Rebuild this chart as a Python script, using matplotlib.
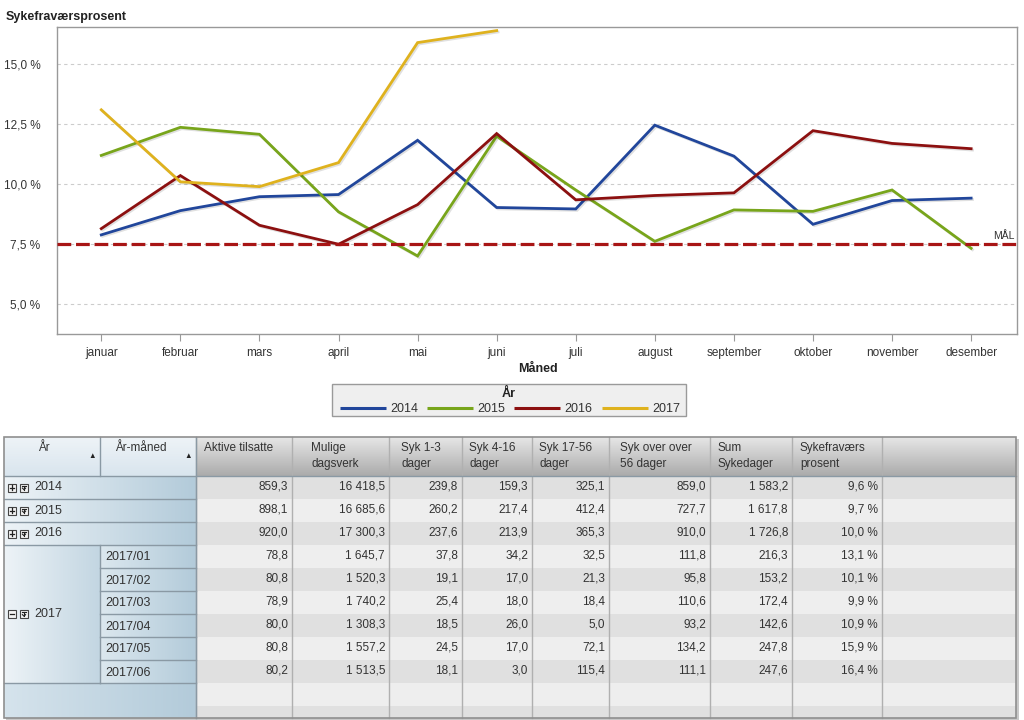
import numpy as np
import matplotlib
matplotlib.use("Agg")
import matplotlib.pyplot as plt
import matplotlib.patheffects as pe
from matplotlib.patches import Rectangle
from matplotlib.colors import LinearSegmentedColormap

plt.rcParams['font.family'] = ['Liberation Sans', 'DejaVu Sans']

# ---------------- chart data ----------------
months = ["januar", "februar", "mars", "april", "mai", "juni", "juli",
          "august", "september", "oktober", "november", "desember"]
years = ["2014", "2015", "2016", "2017"]
v2014 = [7.89, 8.90, 9.48, 9.57, 11.83, 9.03, 8.97, 12.46, 11.17, 8.33, 9.32, 9.42]
v2015 = [11.20, 12.37, 12.08, 8.85, 7.01, 12.00, 9.76, 7.62, 8.93, 8.87, 9.76, 7.33]
v2016 = [8.15, 10.36, 8.29, 7.50, 9.15, 12.11, 9.35, 9.53, 9.64, 12.23, 11.70, 11.48]
v2017 = [13.1, 10.1, 9.9, 10.9, 15.9, 16.4]
target = 7.5
yticks = [5.0, 7.5, 10.0, 12.5, 15.0]
colors = ["#21469b", "#78a51b", "#8c1010", "#dfb21e"]

# ---------------- table data ----------------
row_years = ["2014", "2015", "2016"]
sub_year = "2017"
sub_months = ["2017/01", "2017/02", "2017/03", "2017/04", "2017/05", "2017/06"]
col_headers = ["Aktive tilsatte", "Mulige\ndagsverk", "Syk 1-3\ndager", "Syk 4-16\ndager",
               "Syk 17-56\ndager", "Syk over over\n56 dager", "Sum\nSykedager",
               "Sykefraværs\nprosent"]
aktive = [859.3, 898.1, 920.0, 78.8, 80.8, 78.9, 80.0, 80.8, 80.2]
mulige = [16418.5, 16685.6, 17300.3, 1645.7, 1520.3, 1740.2, 1308.3, 1557.2, 1513.5]
syk13 = [239.8, 260.2, 237.6, 37.8, 19.1, 25.4, 18.5, 24.5, 18.1]
syk416 = [159.3, 217.4, 213.9, 34.2, 17.0, 18.0, 26.0, 17.0, 3.0]
syk1756 = [325.1, 412.4, 365.3, 32.5, 21.3, 18.4, 5.0, 72.1, 115.4]
sykover = [859.0, 727.7, 910.0, 111.8, 95.8, 110.6, 93.2, 134.2, 111.1]
sumdager = [1583.2, 1617.8, 1726.8, 216.3, 153.2, 172.4, 142.6, 247.8, 247.6]
prosent = [9.6, 9.7, 10.0, 13.1, 10.1, 9.9, 10.9, 15.9, 16.4]


def fmt(v):
    return f"{v:,.1f}".replace(",", " ").replace(".", ",")


def fmt_pct(v):
    return f"{v:.1f}".replace(".", ",") + " %"


W, H = 1024, 720
fig = plt.figure(figsize=(W / 100, H / 100), dpi=100)
fig.patch.set_facecolor("white")

# overlay axes in pixel coordinates
ov = fig.add_axes([0, 0, 1, 1], zorder=0)
ov.set_xlim(0, W)
ov.set_ylim(H, 0)
ov.axis("off")

TXT = "#333333"

# ---------------- chart ----------------
ax = fig.add_axes([57 / W, 1 - 334 / H, (1017 - 57) / W, (334 - 27) / H], zorder=2)
x = np.arange(len(months))
for vals, c in zip([v2014, v2015, v2016, v2017], colors):
    ax.plot(x[:len(vals)], vals, color=c, lw=2.0, solid_joinstyle="miter", zorder=3,
            path_effects=[pe.SimpleLineShadow(offset=(1, -1), alpha=0.12), pe.Normal()])
ax.axhline(target, color="#a81515", lw=2.3, dashes=(4.3, 1.5), zorder=4)
ax.text(11.55, target + 0.12, "MÅL", ha="right", va="bottom", fontsize=7.5, color=TXT)
ax.set_ylim(3.76, 16.55)
ax.set_xlim(-0.56, 11.58)
ax.set_yticks(yticks)
ax.set_yticklabels([f"{t:.1f}".replace(".", ",") + " %" for t in yticks], fontsize=8.5, color=TXT)
ax.set_xticks(x)
ax.set_xticklabels(months, fontsize=8.5, color=TXT)
for lab in ax.get_xticklabels():
    lab.set_verticalalignment("baseline")
ax.tick_params(axis="y", length=0, pad=12)
ax.tick_params(axis="x", length=5, color="#999999", pad=10.6)
ax.grid(axis="y", color="#cccccc", linestyle=(0, (3, 3)), lw=0.8)
ax.set_axisbelow(True)
for s in ax.spines.values():
    s.set_color("#999999")
    s.set_linewidth(1.0)

fig.text(6 / W, 1 - 17 / H, "Sykefraværsprosent", fontsize=9, fontweight="bold",
         ha="left", va="center", color="#222222")
fig.text(538 / W, 1 - 369 / H, "Måned", fontsize=9, fontweight="bold",
         ha="center", va="center", color="#222222")

# ---------------- legend ----------------
ov.add_patch(Rectangle((332, 383.5), 354, 32.5, facecolor="#efefef", edgecolor="#9a9a9a", lw=1, zorder=2))
ov.text(509, 393.5, "År", ha="center", va="center", fontsize=9, fontweight="bold", color="#222222", zorder=3)
leg_x = [340, 427, 514, 602]
for lx, yr, c in zip(leg_x, years, colors):
    ov.plot([lx, lx + 46], [408, 408], color=c, lw=2.2, zorder=3, solid_capstyle="butt")
    ov.text(lx + 50, 408.5, yr, ha="left", va="center", fontsize=9, color=TXT, zorder=3)

# ---------------- table ----------------
col_edges = [4, 100, 196, 292, 389, 462, 532, 609, 710, 792, 882, 1016]
hdr_top, hdr_bot = 437, 476
row_h = 23
n_rows = len(aktive)
row_tops = [hdr_bot + i * row_h for i in range(n_rows + 1)]
tbl_bot = 718


def grad(x0, x1, y0, y1, c0, c1, horizontal=True, z=1):
    cmap = LinearSegmentedColormap.from_list("g", [c0, c1])
    if horizontal:
        arr = np.linspace(0, 1, 64).reshape(1, -1)
    else:
        arr = np.linspace(0, 1, 64).reshape(-1, 1)
    ov.imshow(arr, cmap=cmap, extent=(x0, x1, y1, y0), aspect="auto",
              interpolation="bilinear", origin="upper", zorder=z)


# shadow
ov.add_patch(Rectangle((6, hdr_top + 2), col_edges[-1] - 4 + 1, tbl_bot - hdr_top + 1,
                       facecolor="#c8c8c8", edgecolor="none", zorder=0.5))

# data area backgrounds (alternating)
data_x0, data_x1 = col_edges[2], col_edges[-1]
band_tops = row_tops + [row_tops[-1] + row_h, row_tops[-1] + 2 * row_h]
for i in range(len(band_tops) - 1):
    y0 = band_tops[i]
    y1 = min(band_tops[i + 1], tbl_bot)
    fc = "#e0e0e0" if i % 2 == 0 else "#eeeeee"
    ov.add_patch(Rectangle((data_x0, y0), data_x1 - data_x0, y1 - y0, facecolor=fc,
                           edgecolor="none", zorder=1))

# header cells
grad(col_edges[0], col_edges[1], hdr_top, hdr_bot, "#eef3f7", "#d9e5ee", horizontal=False)
grad(col_edges[1], col_edges[2], hdr_top, hdr_bot, "#eef3f7", "#d9e5ee", horizontal=False)
for j in range(2, len(col_edges) - 1):
    grad(col_edges[j], col_edges[j + 1], hdr_top, hdr_bot, "#e6e6e6", "#ababab", horizontal=False)

# vertical lines in header and data
for j in range(2, len(col_edges) - 1):
    ov.plot([col_edges[j], col_edges[j]], [hdr_top, tbl_bot], color="#b0b0b0", lw=1, zorder=3)
ov.plot([col_edges[1], col_edges[1]], [hdr_top, hdr_bot], color="#8a99a4", lw=1, zorder=3)
ov.plot([col_edges[0], col_edges[-1]], [hdr_bot, hdr_bot], color="#8a99a4", lw=1, zorder=3)

# header texts
ov.text(44, 448, "År", ha="center", va="center", fontsize=8.5, color=TXT, zorder=4)
ov.text(141, 448, "År-måned", ha="center", va="center", fontsize=8.5, color=TXT, zorder=4)
ov.text(92, 457, "▲", ha="center", va="center", fontsize=5.5, color="#222222", zorder=4)
ov.text(188, 457, "▲", ha="center", va="center", fontsize=5.5, color="#222222", zorder=4)
hdr_x = [204, 311, 401, 469, 539, 620, 717, 800]
for hx, label in zip(hdr_x, col_headers):
    for k, line in enumerate(label.split("\n")):
        ov.text(hx, 448 + 16.5 * k, line, ha="left", va="center", fontsize=8.5, color=TXT, zorder=4)

# left label cells
LBL_L, LBL_R = "#edf3f7", "#b3cbda"
edge_c = "#8a99a4"


def icon(xc, yc, minus=False):
    ov.add_patch(Rectangle((xc - 4, yc - 4), 8, 8, facecolor="#f4f4f4", edgecolor="#444444",
                           lw=0.8, zorder=5))
    ov.plot([xc - 2.2, xc + 2.2], [yc, yc], color="#222222", lw=0.9, zorder=6)
    if not minus:
        ov.plot([xc, xc], [yc - 2.2, yc + 2.2], color="#222222", lw=0.9, zorder=6)


def icon2(xc, yc):
    ov.add_patch(Rectangle((xc - 4, yc - 4), 8, 8, facecolor="#f4f4f4", edgecolor="#444444",
                           lw=0.8, zorder=5))
    ov.plot([xc - 2.2, xc + 2.2], [yc - 2, yc - 2], color="#222222", lw=0.8, zorder=6)
    ov.plot([xc, xc], [yc - 2, yc + 2.2], color="#222222", lw=0.8, zorder=6)
    ov.plot([xc - 1.6, xc, xc + 1.6], [yc + 0.6, yc + 2.2, yc + 0.6], color="#222222", lw=0.8, zorder=6)


for i, yr in enumerate(row_years):
    y0, y1 = row_tops[i], row_tops[i + 1]
    grad(col_edges[0], col_edges[2], y0, y1, LBL_L, LBL_R)
    ov.plot([col_edges[0], col_edges[2]], [y1, y1], color=edge_c, lw=1, zorder=3)
    yc = (y0 + y1) / 2
    icon(12, yc)
    icon2(24, yc)
    ov.text(34, yc, yr, ha="left", va="center", fontsize=9, color=TXT, zorder=4)

# 2017 spanning cell
y17a, y17b = row_tops[3], row_tops[3 + len(sub_months)]
grad(col_edges[0], col_edges[1], y17a, y17b, LBL_L, "#c3d6e2")
yc17 = (y17a + y17b) / 2
icon(12, yc17, minus=True)
icon2(24, yc17)
ov.text(34, yc17, sub_year, ha="left", va="center", fontsize=9, color=TXT, zorder=4)
for k, m in enumerate(sub_months):
    y0, y1 = row_tops[3 + k], row_tops[4 + k]
    grad(col_edges[1], col_edges[2], y0, y1, "#dbe7ee", LBL_R)
    ov.plot([col_edges[1], col_edges[2]], [y1, y1], color=edge_c, lw=1, zorder=3)
    ov.text(105, (y0 + y1) / 2 + 1, m, ha="left", va="center", fontsize=9, color=TXT, zorder=4)
ov.plot([col_edges[1], col_edges[1]], [y17a, y17b], color=edge_c, lw=1, zorder=3)
ov.plot([col_edges[0], col_edges[1]], [y17b, y17b], color=edge_c, lw=1, zorder=3)
# empty bottom label cell
grad(col_edges[0], col_edges[2], y17b, tbl_bot, "#d5e3ec", LBL_R)
ov.plot([col_edges[2], col_edges[2]], [hdr_top, tbl_bot], color="#8a99a4", lw=1, zorder=3)

# numbers
columns = [aktive, mulige, syk13, syk416, syk1756, sykover, sumdager]
for i in range(n_rows):
    yc = (row_tops[i] + row_tops[i + 1]) / 2 - 1
    for j, col in enumerate(columns):
        ov.text(col_edges[j + 3] - 4, yc, fmt(col[i]), ha="right", va="center",
                fontsize=8.5, color=TXT, zorder=4)
    ov.text(col_edges[10] - 4, yc, fmt_pct(prosent[i]), ha="right", va="center",
            fontsize=8.5, color=TXT, zorder=4)

# outer border
ov.add_patch(Rectangle((col_edges[0], hdr_top), col_edges[-1] - col_edges[0], tbl_bot - hdr_top,
                       facecolor="none", edgecolor="#8f8f8f", lw=1.2, zorder=6))
ov.set_xlim(0, W)
ov.set_ylim(H, 0)

fig.savefig("out.png", dpi=100, facecolor="white")
